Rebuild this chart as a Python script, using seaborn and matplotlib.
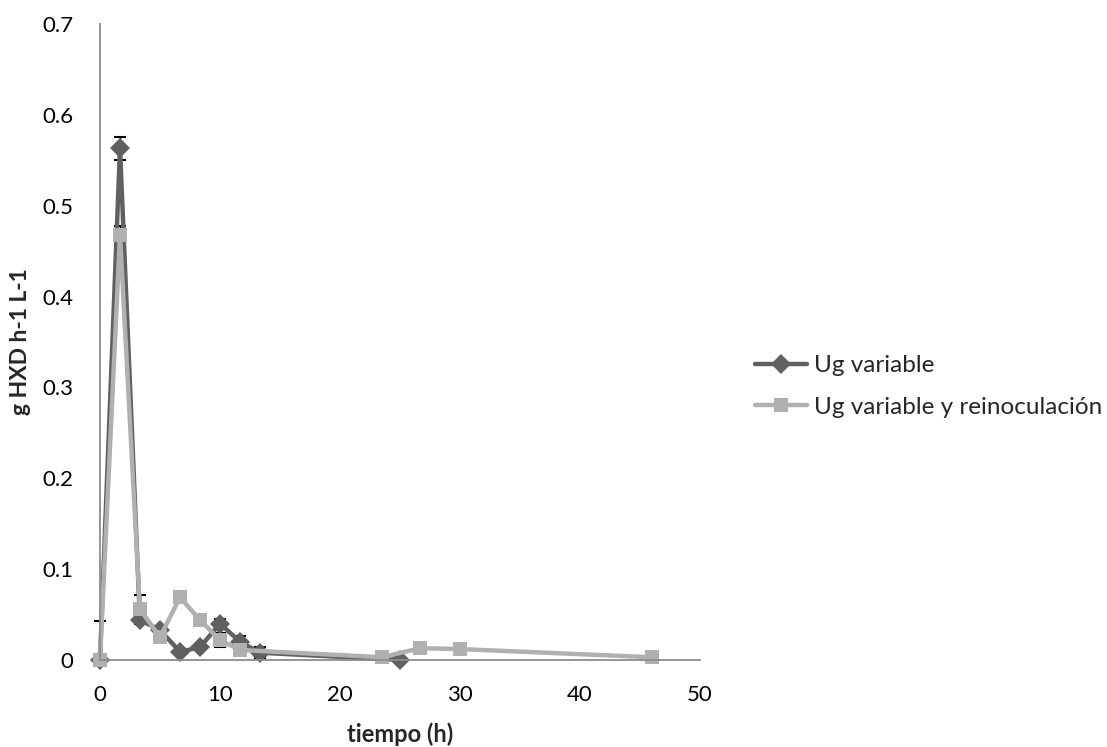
import matplotlib
matplotlib.use("Agg")
import matplotlib.pyplot as plt
import seaborn as sns
import pandas as pd
import numpy as np

# Data
t_dark = [0, 1.67, 3.33, 5.0, 6.67, 8.33, 10.0, 11.67, 13.33, 25.0]
y_dark = [0.0, 0.563, 0.044, 0.033, 0.009, 0.014, 0.040, 0.020, 0.008, 0.0]
e_dark_lo = [0.0, 0.013, 0.004, 0.003, 0.002, 0.003, 0.005, 0.006, 0.006, 0.0]
e_dark_hi = [0.043, 0.013, 0.004, 0.003, 0.002, 0.003, 0.005, 0.006, 0.006, 0.0]

t_light = [0, 1.67, 3.33, 5.0, 6.67, 8.33, 10.0, 11.67, 23.5, 26.7, 30.0, 46.0]
y_light = [0.0, 0.468, 0.056, 0.025, 0.069, 0.044, 0.022, 0.011, 0.003, 0.013, 0.012, 0.003]
e_light = [0.0, 0.010, 0.016, 0.002, 0.0, 0.0, 0.008, 0.002, 0.0, 0.0, 0.0, 0.0]

series_names = ["Ug variable", "Ug variable y reinoculación"]
colors = ["#606060", "#b0b0b0"]

x_ticks = [0, 10, 20, 30, 40, 50]
y_ticks = [0, 0.1, 0.2, 0.3, 0.4, 0.5, 0.6, 0.7]
y_tick_labels = ["0", "0.1", "0.2", "0.3", "0.4", "0.5", "0.6", "0.7"]

df = pd.concat([
    pd.DataFrame({"t": t_dark, "y": y_dark, "serie": series_names[0]}),
    pd.DataFrame({"t": t_light, "y": y_light, "serie": series_names[1]}),
], ignore_index=True)

sns.set_theme(style="white")
plt.rcParams["font.family"] = ["Lato", "DejaVu Sans"]

fig = plt.figure(figsize=(11.07, 7.47), dpi=100)
ax = fig.add_axes([0.0903, 0.1165, 0.542, 0.8515])

# error bars (black caps) under the lines
ax.errorbar(t_dark, y_dark, yerr=[e_dark_lo, e_dark_hi], fmt="none", ecolor="black",
            elinewidth=1.0, capsize=4, capthick=1.5, zorder=1)
ax.errorbar(t_light, y_light, yerr=e_light, fmt="none", ecolor="black",
            elinewidth=1.0, capsize=4, capthick=1.5, zorder=1)

sns.lineplot(data=df, x="t", y="y", hue="serie", style="serie",
             hue_order=series_names, style_order=series_names,
             palette=dict(zip(series_names, colors)),
             markers={series_names[0]: "D", series_names[1]: "s"},
             dashes=False, sort=False, linewidth=3.2, markersize=10,
             markeredgewidth=0, ax=ax, zorder=2)

ax.set_xlim(0, 50)
ax.set_ylim(0, 0.7)
ax.set_xticks(x_ticks)
ax.set_yticks(y_ticks)
ax.set_yticklabels(y_tick_labels)
ax.tick_params(axis="both", labelsize=16, length=0, colors="black")
ax.tick_params(axis="y", pad=19)
ax.tick_params(axis="x", pad=18)

for s in ["top", "right"]:
    ax.spines[s].set_visible(False)
for s in ["left", "bottom"]:
    ax.spines[s].set_color("#8c8c8c")
    ax.spines[s].set_linewidth(1.3)

ax.set_xlabel("tiempo (h)", fontsize=17, fontweight="bold")
ax.set_ylabel("g HXD h-1 L-1", fontsize=16.5, fontweight="bold")
ax.xaxis.label.set_va("center")
ax.yaxis.label.set_va("center")
ax.xaxis.set_label_coords(0.5, -0.116)
ax.yaxis.set_label_coords(-0.133, 0.5)

for line in ax.lines:
    line.set_clip_on(False)

leg = ax.legend(loc="center left", bbox_to_anchor=(1.075, 0.43), frameon=False,
                fontsize=17.5, handlelength=2.15, handletextpad=0.3,
                labelspacing=0.85, borderaxespad=0)
for h in leg.legend_handles:
    h.set_linewidth(3.2)
    h.set_markersize(10)

fig.savefig("out.png", dpi=100)
